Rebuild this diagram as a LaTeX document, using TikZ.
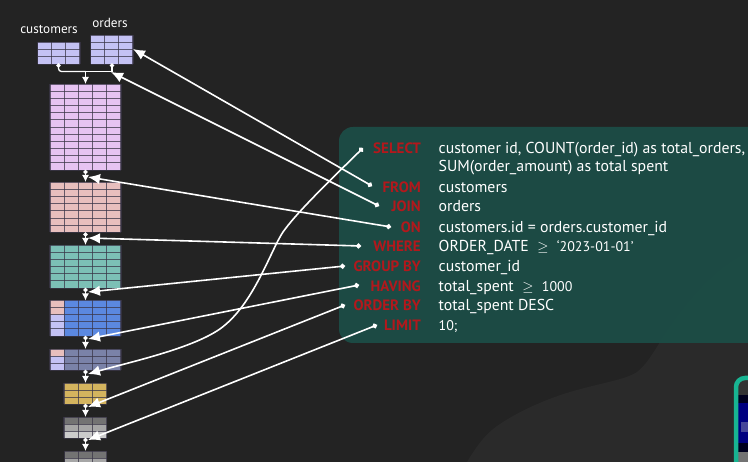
\documentclass[tikz,border=0pt]{standalone}
\usepackage{fontspec}
\setmainfont{PT Sans}
\usetikzlibrary{arrows.meta}
\definecolor{bgdark}{HTML}{232323}
\definecolor{bgwave}{HTML}{2A2A2A}
\definecolor{panelgreen}{HTML}{1C4E47}
\definecolor{kwred}{HTML}{B3181C}
\definecolor{gridline}{HTML}{3A3648}
\definecolor{lavender}{HTML}{C4C2F4}
\definecolor{mauve}{HTML}{E6C3F2}
\definecolor{rosy}{HTML}{E8BFBD}
\definecolor{tealrow}{HTML}{7CC0B6}
\definecolor{bluerow}{HTML}{5B88E0}
\definecolor{slaterow}{HTML}{7A82A8}
\definecolor{goldrow}{HTML}{D4B45E}
\definecolor{framegreen}{HTML}{18B492}
\tikzset{
  kw/.style={anchor=base east,inner sep=0pt,text=kwred,font=\bfseries\fontsize{15}{15}\selectfont},
  sqltext/.style={anchor=base west,inner sep=0pt,text=white,font=\fontsize{15.8}{15.8}\selectfont},
  tname/.style={text=white,font=\fontsize{13.2}{13.2}\selectfont},
  link/.style={draw=white,line width=1.6pt,{Circle[length=5pt]}-{Latex[length=12pt,width=10.5pt]}},
  flow/.style={draw=white,line width=1.3pt,{Circle[length=4pt]}-{Latex[length=7pt,width=7pt]}},
  tbox/.style={inner sep=0pt,outer sep=0pt,anchor=north west},
}
\newcommand{\smallnum}[1]{{\fontsize{14}{14}\selectfont #1}}
% \gridfill{name}{x}{y}{width}{height}{colour}
\newcommand{\gridfill}[6]{
  \node[tbox,fill=#6,minimum width=#4pt,minimum height=#5pt] (#1) at (#2,#3) {};
}
% \gridlines{x}{y}{width}{height}{cols}{rows}
\newcommand{\gridlines}[6]{
  \foreach \i in {0,...,#5}
    \draw[gridline,draw opacity=.75,line width=1.1pt] (#1+#3*\i/#5,#2) -- (#1+#3*\i/#5,#2+#4);
  \foreach \j in {0,...,#6}
    \draw[gridline,draw opacity=.75,line width=0.9pt] (#1,#2+#4*\j/#6) -- (#1+#3,#2+#4*\j/#6);
}
\begin{document}
\begin{tikzpicture}[x=1pt,y=-1pt]
  \useasboundingbox (0,0) rectangle (748,462);
  \fill[bgdark] (0,0) rectangle (748,462);
  \fill[bgwave] (467,462) .. controls (480,440) and (490,430) .. (503,422) .. controls (525,408) and (550,398) .. (570,392) .. controls (600,383) and (625,380) .. (637,372) .. controls (645,366) and (652,355) .. (660,342) .. controls (680,312) and (710,270) .. (748,253) -- (748,462) -- cycle;
  \fill[panelgreen,fill opacity=.93,rounded corners=14pt] (339,127) rectangle (770,343);

  % thumbnail in the corner
  \fill[black!80,rounded corners=9pt] (736,378) rectangle (770,470);
  \fill[black!60!blue!30!black] (738,395) rectangle (748,403);
  \fill[blue!50!black] (738,403) rectangle (748,443);
  \fill[white!45!blue!60!black] (741,422) rectangle (748,432);
  \fill[black!60!blue!30!black] (738,443) rectangle (748,452);
  \fill[black!55] (738,452) rectangle (748,462);
  \draw[framegreen,line width=4.5pt,rounded corners=9pt] (736,378) rectangle (770,470);

  % tables
  \gridfill{customers}{37.5}{42}{42.5}{22}{lavender}
  \gridlines{37.5}{42}{42.5}{22}{3}{3}
  \gridfill{orders}{90.5}{35}{42.5}{29}{lavender}
  \gridlines{90.5}{35}{42.5}{29}{3}{4}
  \gridfill{joined}{50}{84}{71}{86}{mauve}
  \gridlines{50}{84}{71}{86}{5}{12}
  \gridfill{onresult}{50}{182}{71}{50.5}{rosy}
  \gridlines{50}{182}{71}{50.5}{5}{7}
  \gridfill{whereresult}{50}{245}{71}{43}{tealrow}
  \gridlines{50}{245}{71}{43}{5}{6}
  \gridfill{grouped}{50}{300.5}{71}{35.5}{bluerow}
  \fill[rosy] (50,300.5) rectangle (64,315);
  \fill[lavender] (50,315) rectangle (64,336);
  \gridlines{50}{300.5}{71}{35.5}{5}{5}
  \gridfill{having}{50}{349}{71}{21}{slaterow}
  \fill[rosy] (50,349) rectangle (64,356);
  \fill[lavender] (50,356) rectangle (64,370);
  \gridlines{50}{349}{71}{21}{5}{3}
  \gridfill{selected}{64}{383}{42.5}{21}{goldrow}
  \gridlines{64}{383}{42.5}{21}{3}{3}
  \gridfill{sorted}{64}{417}{42.5}{21}{black!30}
  \fill[black!55] (64,417) rectangle (106.5,424);
  \fill[black!35] (64,424) rectangle (106.5,431);
  \fill[black!20] (64,431) rectangle (106.5,438);
  \gridlines{64}{417}{42.5}{21}{3}{3}
  \gridfill{limited}{64.5}{451}{42}{21}{black!35}
  \fill[black!55] (64.5,451) rectangle (106.5,458);
  \gridlines{64.5}{451}{42}{21}{3}{3}

  \node[tname] (customerslabel) at (49,29) {customers};
  \node[tname] (orderslabel) at (110,23) {orders};

  % flow between the tables
  \coordinate (mergept) at (85.5,71.5);
  \draw[white,line width=1.3pt,rounded corners=3pt,{Circle[length=4pt]}-] (58.5,63.5) |- (mergept);
  \draw[white,line width=1.3pt,{Circle[length=4pt]}-] (112,63.5) |- (mergept);
  \draw[white,line width=1.3pt,-{Latex[length=7pt,width=7pt]}] (mergept) -- (joined.north-|mergept);
  \draw[flow] (joined.south-|mergept) -- (onresult.north-|mergept);
  \draw[flow] (onresult.south-|mergept) -- (whereresult.north-|mergept);
  \draw[flow] (whereresult.south-|mergept) -- (grouped.north-|mergept);
  \draw[flow] (grouped.south-|mergept) -- (having.north-|mergept);
  \draw[flow] (having.south-|mergept) -- (selected.north-|mergept);
  \draw[flow] (selected.south-|mergept) -- (sorted.north-|mergept);
  \draw[flow] (sorted.south-|mergept) -- (limited.north-|mergept);

  % keywords
  \node[kw] (kselect) at (421,154) {SELECT};
  \node[kw] (kfrom) at (421,193) {FROM};
  \node[kw] (kjoin) at (421,212) {JOIN};
  \node[kw] (kon) at (421,233) {ON};
  \node[kw] (kwhere) at (421,252) {WHERE};
  \node[kw] (kgroup) at (421,272) {GROUP BY};
  \node[kw] (khaving) at (421,292) {HAVING};
  \node[kw] (korder) at (421,311) {ORDER BY};
  \node[kw] (klimit) at (421,331) {LIMIT};

  \node[sqltext] (tselect) at (438.5,154) {customer id, COUNT(order\_id) as total\_orders,};
  \node[sqltext] (tsum) at (438.5,172) {SUM(order\_amount) as total spent};
  \node[sqltext] (tfrom) at (438.5,193) {customers};
  \node[sqltext] (tjoin) at (438.5,212) {orders};
  \node[sqltext] (ton) at (438.5,233) {customers.id = orders.customer\_id};
  \node[sqltext] (twhere) at (438.5,252) {ORDER\_DATE\ \ $\geq$\ \ \smallnum{`2023-01-01'}};
  \node[sqltext] (tgroup) at (438.5,272) {customer\_id};
  \node[sqltext] (thaving) at (438.5,292) {total\_spent\ \ $\geq$\ \ \smallnum{1000}};
  \node[sqltext] (torder) at (438.5,311) {total\_spent DESC};
  \node[sqltext] (tlimit) at (438.5,331) {\smallnum{10;}};

  % clause to step
  \coordinate (dselect) at (363,148);
  \coordinate (dfrom) at (372,186);
  \coordinate (djoin) at (379,206);
  \coordinate (don) at (391,227);
  \coordinate (dwhere) at (361,246);
  \coordinate (dgroup) at (345,266);
  \coordinate (dhaving) at (359,285);
  \coordinate (dorder) at (345,305);
  \coordinate (dlimit) at (377,325);
  \coordinate (aselect) at (88,374);
  \coordinate (afrom) at (133,49);
  \coordinate (ajoin) at (111,72);
  \coordinate (aon) at (88,177);
  \coordinate (awhere) at (88,238);
  \coordinate (agroup) at (88,292);
  \coordinate (ahaving) at (88,339);
  \coordinate (aorder) at (88,407);
  \coordinate (alimit) at (88,440);
  \draw[link] (dselect) .. controls (320,190) and (295,215) .. (283,232) .. controls (271,250) and (255,300) .. (225,325) .. controls (200,347) and (130,362) .. (aselect);
  \draw[link] (dfrom) -- (afrom);
  \draw[link] (djoin) -- (ajoin);
  \draw[link] (don) -- (aon);
  \draw[link] (dwhere) -- (awhere);
  \draw[link] (dgroup) -- (agroup);
  \draw[link] (dhaving) -- (ahaving);
  \draw[link] (dorder) -- (aorder);
  \draw[link] (dlimit) -- (alimit);
\end{tikzpicture}
\end{document}
